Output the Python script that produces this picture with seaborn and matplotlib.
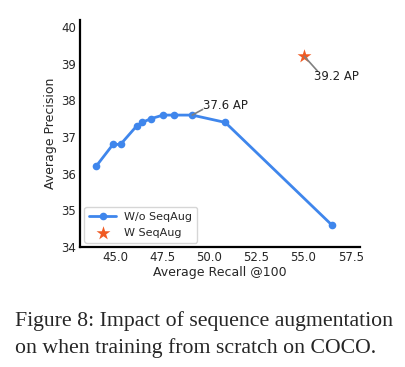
import pandas as pd
import matplotlib
matplotlib.use("Agg")
import matplotlib.pyplot as plt
import seaborn as sns

# data
recall_wo = [44.0, 44.9, 45.3, 46.15, 46.45, 46.9, 47.55, 48.15, 49.1, 50.85, 56.5]
ap_wo = [36.2, 36.8, 36.8, 37.3, 37.4, 37.5, 37.6, 37.6, 37.6, 37.4, 34.6]
recall_w = [55.05]
ap_w = [39.2]
xticks = [45.0, 47.5, 50.0, 52.5, 55.0, 57.5]
yticks = [34, 35, 36, 37, 38, 39, 40]

blue = "#3f86ec"
orange = "#f05a22"

sns.set_style("white")
plt.rcParams['font.family'] = ['DejaVu Sans']

df_wo = pd.DataFrame({'recall': recall_wo, 'ap': ap_wo})
df_w = pd.DataFrame({'recall': recall_w, 'ap': ap_w})

fig = plt.figure(figsize=(4.06, 3.67), dpi=100)
ax = fig.add_axes([0.197, 0.327, 0.69, 0.619])

sns.lineplot(data=df_wo, x='recall', y='ap', ax=ax, color=blue, marker='o',
             markersize=5.5, markeredgewidth=0, linewidth=2, sort=False,
             label='W/o SeqAug')
sns.scatterplot(data=df_w, x='recall', y='ap', ax=ax, color=orange, marker='*',
                s=110, linewidth=0, label='W SeqAug', zorder=3)

# annotations with short gray leader lines
arrow = dict(arrowstyle='-', color='gray', lw=1.2, patchA=None,
             shrinkA=0, shrinkB=0, relpos=(0, 0.2))
ax.annotate('37.6 AP', xy=(recall_wo[8], ap_wo[8]), xytext=(49.65, 37.86),
            fontsize=8.5, color='#222222', va='center', arrowprops=arrow)
ax.annotate('39.2 AP', xy=(recall_w[0], ap_w[0]), xytext=(55.55, 38.66),
            fontsize=8.5, color='#222222', va='center',
            arrowprops=dict(arrow, relpos=(0.08, 0.9)))

ax.set_xlim(43.15, 58.0)
ax.set_ylim(34, 40.2)
ax.set_xticks(xticks)
ax.set_yticks(yticks)
ax.set_xticklabels([f'{t:.1f}' for t in xticks])
ax.set_xlabel('Average Recall @100', fontsize=9, labelpad=1)
ax.set_ylabel('Average Precision', fontsize=9, labelpad=3)
ax.tick_params(direction='in', length=4, width=1, labelsize=8.5, pad=3)
sns.despine(ax=ax)
for s in ['left', 'bottom']:
    ax.spines[s].set_linewidth(1.6)
    ax.spines[s].set_color('black')

ax.legend(loc='lower left', fontsize=8, frameon=True, edgecolor='#cccccc',
          handlelength=2.4, borderpad=0.45, labelspacing=0.5,
          handletextpad=0.7, borderaxespad=0.4)

# caption
fig.text(0.037, 0.152, 'Figure 8: Impact of sequence augmentation\non when training from scratch on COCO.',
         family='Liberation Serif', fontsize=15.7, ha='left', va='top',
         linespacing=1.45)

fig.savefig('out.png', dpi=100)
